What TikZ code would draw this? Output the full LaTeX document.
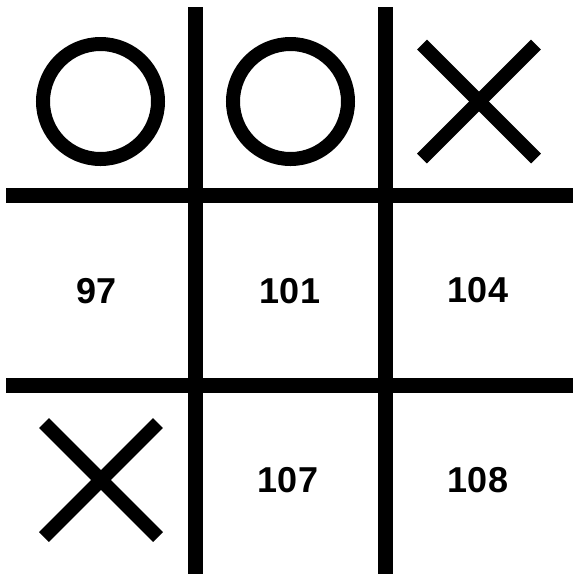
\documentclass[tikz,border=0pt]{standalone}
\usepackage{fontspec}
\setmainfont{Liberation Sans}
\usepackage{tikz}
\usetikzlibrary{positioning}
\tikzset{
	gridline/.style={line width=14.5pt, black}
}
\tikzset{
	pieceline/.style={line width=14pt, black},
	cellnum/.style={font=\bfseries\fontsize{36}{36}\selectfont, inner sep=0pt}
}

\begin{document}
\begin{tikzpicture}[x=1pt, y=-1pt]
      \useasboundingbox (0,0) rectangle (573,574);
      % board lines
      \draw[gridline] (195.5,7) -- (195.5,574);
      \draw[gridline] (385.5,7) -- (385.5,574);
      \draw[gridline] (6,195.5) -- (573,195.5);
      \draw[gridline] (6,385.5) -- (573,385.5);
      % played cells
      \draw[pieceline] (100.5,101.5) circle (57.5);
      \draw[pieceline] (290.5,101.5) circle (57.5);
      \draw[pieceline] (422,44.5) -- (536,158.5); \draw[pieceline] (422,158.5) -- (536,44.5);
      \draw[pieceline] (44,423) -- (158,537); \draw[pieceline] (44,537) -- (158,423);
      % free cells
      \node[cellnum] (c97) at (97,291) {97};
      \node[cellnum] (c101) at (290,291) {101};
      \node[cellnum] (c104) at (478,290) {104};
      \node[cellnum] (c107) at (288,480) {107};
      \node[cellnum] (c108) at (478,480) {108};
    \end{tikzpicture}
\end{document}
